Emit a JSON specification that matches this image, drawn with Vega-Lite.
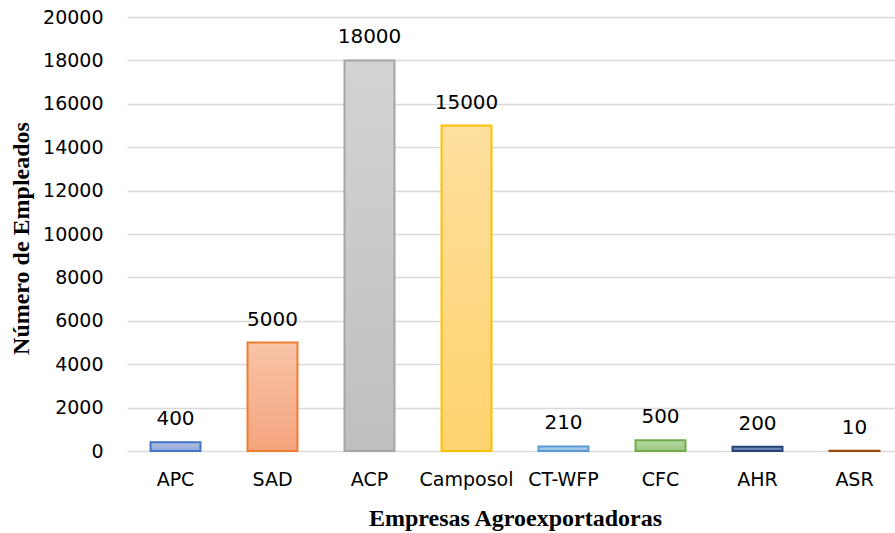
{
  "$schema": "https://vega.github.io/schema/vega-lite/v6.json",
  "width": 776,
  "height": 434,
  "autosize": {"type": "none"},
  "padding": {"left": 127, "top": 17, "right": 0, "bottom": 82},
  "background": "white",
  "config": {"view": {"stroke": null}},
  "data": {
    "values": [
      {"empresa": "APC", "empleados": 400},
      {"empresa": "SAD", "empleados": 5000},
      {"empresa": "ACP", "empleados": 18000},
      {"empresa": "Camposol", "empleados": 15000},
      {"empresa": "CT-WFP", "empleados": 210},
      {"empresa": "CFC", "empleados": 500},
      {"empresa": "AHR", "empleados": 200},
      {"empresa": "ASR", "empleados": 10}
    ]
  },
  "encoding": {
    "x": {
      "field": "empresa", "type": "nominal", "sort": null,
      "scale": {"domain": ["APC", "SAD", "ACP", "Camposol", "CT-WFP", "CFC", "AHR", "ASR"], "paddingInner": 0.485, "paddingOuter": 0.2425},
      "axis": {
        "title": "Empresas Agroexportadoras",
        "titleFont": "Liberation Serif", "titleFontSize": 24, "titleFontWeight": "bold", "titleColor": "black",
        "titleY": 67, "titleBaseline": "middle",
        "labelFont": "DejaVu Sans", "labelFontSize": 19, "labelColor": "black", "labelAngle": 0,
        "labelPadding": 19, "ticks": false, "domain": false
      }
    },
    "y": {
      "field": "empleados", "type": "quantitative",
      "scale": {"domain": [0, 20000], "nice": false},
      "axis": {
        "title": "Número de Empleados",
        "titleFont": "Liberation Serif", "titleFontSize": 24, "titleFontWeight": "bold", "titleColor": "black",
        "titleX": -106, "titleY": 221, "titleBaseline": "middle", "titleAlign": "center", "titleAngle": -90,
        "values": [0, 2000, 4000, 6000, 8000, 10000, 12000, 14000, 16000, 18000, 20000],
        "format": "d",
        "labelFont": "DejaVu Sans", "labelFontSize": 19, "labelColor": "black",
        "labelPadding": 24, "ticks": false, "domain": false,
        "grid": true, "gridColor": "#d9d9d9", "gridWidth": 1.5
      }
    }
  },
  "layer": [
    {
      "transform": [{"filter": "datum.empresa === 'APC'"}],
      "mark": {"type": "bar", "strokeWidth": 2, "stroke": "#4472c4", "fill": {"gradient": "linear", "x1": 0, "y1": 0, "x2": 0, "y2": 1, "stops": [{"offset": 0, "color": "#b1c1e6"}, {"offset": 1, "color": "#8ea6d9"}]}}
    },
    {
      "transform": [{"filter": "datum.empresa === 'SAD'"}],
      "mark": {"type": "bar", "strokeWidth": 2, "stroke": "#ed7d31", "fill": {"gradient": "linear", "x1": 0, "y1": 0, "x2": 0, "y2": 1, "stops": [{"offset": 0, "color": "#f8c4a8"}, {"offset": 1, "color": "#f4a47d"}]}}
    },
    {
      "transform": [{"filter": "datum.empresa === 'ACP'"}],
      "mark": {"type": "bar", "strokeWidth": 2, "stroke": "#a5a5a5", "fill": {"gradient": "linear", "x1": 0, "y1": 0, "x2": 0, "y2": 1, "stops": [{"offset": 0, "color": "#d3d3d3"}, {"offset": 1, "color": "#bfbfbf"}]}}
    },
    {
      "transform": [{"filter": "datum.empresa === 'Camposol'"}],
      "mark": {"type": "bar", "strokeWidth": 2, "stroke": "#ffc000", "fill": {"gradient": "linear", "x1": 0, "y1": 0, "x2": 0, "y2": 1, "stops": [{"offset": 0, "color": "#ffdf9e"}, {"offset": 1, "color": "#ffd36e"}]}}
    },
    {
      "transform": [{"filter": "datum.empresa === 'CT-WFP'"}],
      "mark": {"type": "bar", "strokeWidth": 2, "stroke": "#5b9bd5", "fill": {"gradient": "linear", "x1": 0, "y1": 0, "x2": 0, "y2": 1, "stops": [{"offset": 0, "color": "#b5d1ee"}, {"offset": 1, "color": "#98bfe4"}]}}
    },
    {
      "transform": [{"filter": "datum.empresa === 'CFC'"}],
      "mark": {"type": "bar", "strokeWidth": 2, "stroke": "#70ad47", "fill": {"gradient": "linear", "x1": 0, "y1": 0, "x2": 0, "y2": 1, "stops": [{"offset": 0, "color": "#b8d8a4"}, {"offset": 1, "color": "#9cc885"}]}}
    },
    {
      "transform": [{"filter": "datum.empresa === 'AHR'"}],
      "mark": {"type": "bar", "strokeWidth": 2, "stroke": "#264478", "fill": {"gradient": "linear", "x1": 0, "y1": 0, "x2": 0, "y2": 1, "stops": [{"offset": 0, "color": "#8093c0"}, {"offset": 1, "color": "#5b73a8"}]}}
    },
    {
      "transform": [{"filter": "datum.empresa === 'ASR'"}],
      "mark": {"type": "bar", "strokeWidth": 2, "stroke": "#9e480e", "fill": {"gradient": "linear", "x1": 0, "y1": 0, "x2": 0, "y2": 1, "stops": [{"offset": 0, "color": "#d9b49a"}, {"offset": 1, "color": "#c49578"}]}}
    },
    {
      "mark": {"type": "text", "font": "DejaVu Sans", "fontSize": 20, "color": "black", "baseline": "alphabetic", "dy": -17},
      "encoding": {"text": {"field": "empleados", "type": "quantitative", "format": "d"}}
    }
  ]
}
